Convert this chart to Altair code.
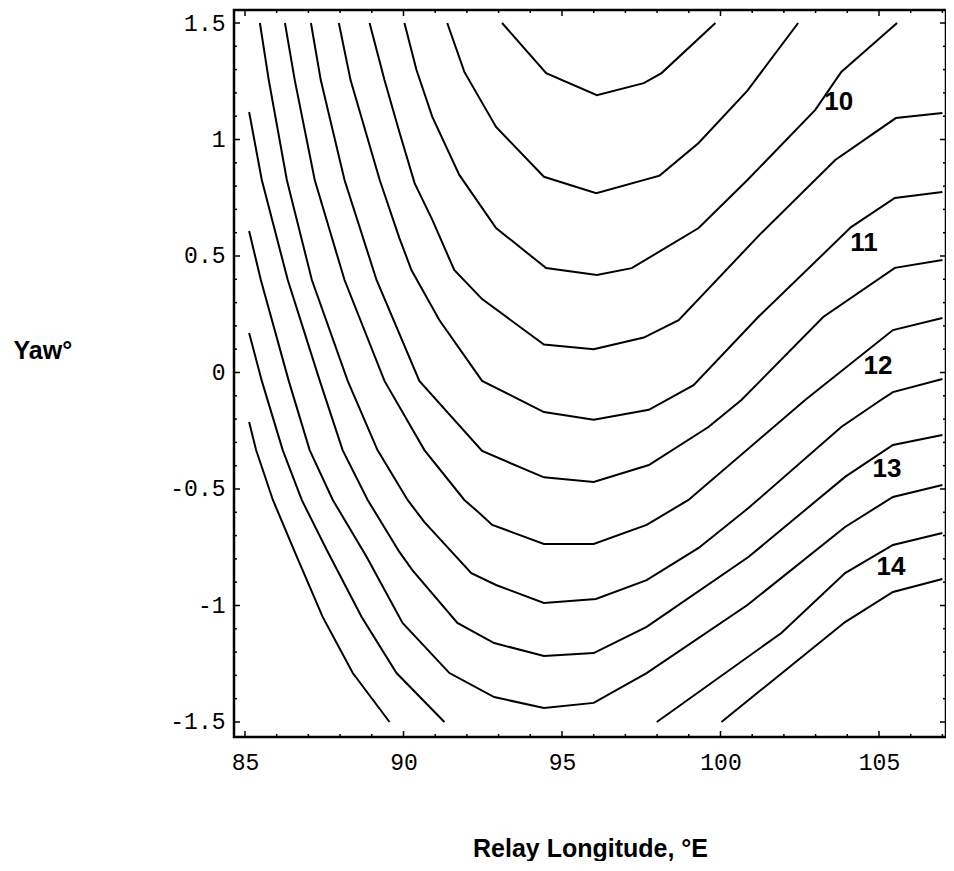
import altair as alt
import pandas as pd

# ---- contour lines (Relay Longitude °E, Yaw °) ----
LON_9 = [93.11, 94.50, 96.10, 97.58, 98.14, 99.84]
YAW_9 = [1.50, 1.285, 1.19, 1.242, 1.285, 1.50]

LON_95 = [91.38, 91.92, 92.92, 94.43, 96.08, 98.08, 99.31, 100.85, 102.45]
YAW_95 = [1.50, 1.29, 1.054, 0.84, 0.77, 0.845, 0.985, 1.21, 1.50]

LON_10 = [90.03, 90.41, 90.91, 91.76, 92.92, 94.50, 96.10, 97.20, 99.31, 100.85, 102.99, 103.81, 105.57]
YAW_10 = [1.50, 1.298, 1.097, 0.848, 0.62, 0.448, 0.418, 0.448, 0.62, 0.826, 1.127, 1.29, 1.50]

LON_105 = [88.93, 89.40, 89.87, 90.35, 90.91, 91.60, 92.48, 94.43, 96.0, 97.58, 98.68, 101.29, 103.62, 105.53, 107.0]
YAW_105 = [1.50, 1.255, 1.032, 0.813, 0.655, 0.44, 0.315, 0.12, 0.10, 0.15, 0.225, 0.599, 0.912, 1.092, 1.114]

LON_11 = [87.96, 88.33, 89.25, 89.87, 90.25, 91.13, 92.48, 94.43, 96.0, 97.74, 99.15, 101.19, 104.12, 105.50, 107.0]
YAW_11 = [1.50, 1.255, 0.826, 0.577, 0.44, 0.225, -0.036, -0.17, -0.203, -0.16, -0.054, 0.238, 0.624, 0.749, 0.775]

LON_115 = [87.08, 87.39, 88.14, 89.15, 90.50, 92.48, 94.43, 96.0, 97.74, 99.62, 100.66, 103.24, 105.50, 107.0]
YAW_115 = [1.50, 1.255, 0.826, 0.397, -0.036, -0.337, -0.45, -0.47, -0.397, -0.234, -0.118, 0.238, 0.449, 0.483]

LON_12 = [86.26, 86.57, 87.20, 88.14, 89.40, 90.66, 91.92, 92.39, 92.80, 94.43, 96.0, 97.67, 98.99, 102.67, 105.44, 107.0]
YAW_12 = [1.50, 1.255, 0.826, 0.397, -0.036, -0.333, -0.547, -0.603, -0.654, -0.736, -0.736, -0.654, -0.547, -0.118, 0.182, 0.234]

LON_125 = [85.47, 85.75, 86.32, 87.11, 88.24, 89.18, 90.13, 90.66, 92.14, 92.92, 94.43, 96.07, 97.67, 99.31, 100.88, 103.81, 105.06, 105.44, 107.0]
YAW_125 = [1.50, 1.255, 0.826, 0.397, -0.036, -0.333, -0.547, -0.642, -0.861, -0.912, -0.989, -0.972, -0.891, -0.753, -0.582, -0.234, -0.118, -0.084, -0.028]

LON_13 = [85.13, 85.53, 86.35, 87.36, 88.08, 88.87, 89.87, 90.28, 91.70, 92.86, 94.43, 96.0, 97.67, 100.88, 103.93, 105.44, 107.0]
YAW_13 = [1.118, 0.826, 0.397, -0.036, -0.333, -0.547, -0.77, -0.848, -1.075, -1.161, -1.217, -1.204, -1.092, -0.792, -0.448, -0.311, -0.268]

LON_135 = [85.13, 85.50, 86.38, 87.04, 87.77, 88.84, 89.97, 91.45, 92.86, 94.43, 96.0, 97.67, 100.85, 103.93, 105.44, 107.0]
YAW_135 = [0.607, 0.397, -0.036, -0.333, -0.547, -0.792, -1.075, -1.29, -1.393, -1.44, -1.418, -1.29, -0.998, -0.663, -0.534, -0.483]

LON_14A = [85.13, 85.53, 86.19, 86.79, 87.58, 88.68, 89.78, 91.29]
YAW_14A = [0.170, -0.036, -0.333, -0.547, -0.762, -1.049, -1.29, -1.50]
LON_14B = [97.99, 101.92, 103.93, 105.44, 107.0]
YAW_14B = [-1.50, -1.118, -0.861, -0.74, -0.689]

LON_145A = [85.13, 85.35, 85.88, 86.64, 87.45, 88.40, 89.56]
YAW_145A = [-0.212, -0.333, -0.547, -0.792, -1.049, -1.29, -1.50]
LON_145B = [100.03, 103.93, 105.44, 107.0]
YAW_145B = [-1.50, -1.071, -0.942, -0.886]

# ---- contour labels ----
LABEL_TEXT = ["10", "11", "12", "13", "14"]
LABEL_LON = [103.73, 104.53, 104.97, 105.25, 105.38]
LABEL_YAW = [1.16, 0.556, 0.03, -0.414, -0.835]

# ---- axis ticks ----
X_MAJOR = [85, 90, 95, 100, 105]
X_MINOR = [86, 87, 88, 89, 91, 92, 93, 94, 96, 97, 98, 99, 101, 102, 103, 104, 106, 107]
Y_MAJOR = [-1.5, -1.0, -0.5, 0.0, 0.5, 1.0, 1.5]
Y_MINOR = [-1.4, -1.3, -1.2, -1.1, -0.9, -0.8, -0.7, -0.6, -0.4, -0.3, -0.2, -0.1,
           0.1, 0.2, 0.3, 0.4, 0.6, 0.7, 0.8, 0.9, 1.1, 1.2, 1.3, 1.4]

segments = [
    ("9", LON_9, YAW_9), ("9.5", LON_95, YAW_95), ("10", LON_10, YAW_10),
    ("10.5", LON_105, YAW_105), ("11", LON_11, YAW_11), ("11.5", LON_115, YAW_115),
    ("12", LON_12, YAW_12), ("12.5", LON_125, YAW_125), ("13", LON_13, YAW_13),
    ("13.5", LON_135, YAW_135), ("14a", LON_14A, YAW_14A), ("14b", LON_14B, YAW_14B),
    ("14.5a", LON_145A, YAW_145A), ("14.5b", LON_145B, YAW_145B),
]
rows = []
for name, xs_, ys_ in segments:
    for i, (a, b) in enumerate(zip(xs_, ys_)):
        rows.append({"seg": name, "idx": i, "lon": a, "yaw": b})
lines_df = pd.DataFrame(rows)
labels_df = pd.DataFrame({"lon": LABEL_LON, "yaw": LABEL_YAW, "t": LABEL_TEXT})

W, H = 712, 727
xs = alt.Scale(domain=[84.653, 107.114], nice=False, zero=False)
ys = alt.Scale(domain=[-1.5644, 1.5558], nice=False, zero=False)

x_axis = alt.Axis(values=X_MAJOR, ticks=False, domain=False, grid=False,
                  labelFont="Liberation Mono", labelFontSize=23, labelPadding=14,
                  labelColor="black",
                  title="Relay Longitude, °E", titleFont="Liberation Sans",
                  titleFontWeight="bold", titleFontSize=25, titleColor="black",
                  titleY=119, titleBaseline="alphabetic")
y_axis = alt.Axis(values=Y_MAJOR, ticks=False, domain=False, grid=False,
                  labelFont="Liberation Mono", labelFontSize=23, labelPadding=9,
                  labelColor="black", labelExpr="'' + datum.value",
                  title="Yaw°", titleFont="Liberation Sans", titleFontWeight="bold",
                  titleFontSize=25, titleColor="black", titleAngle=0,
                  titleAlign="left", titleX=-221, titleY=348,
                  titleBaseline="alphabetic")

lines = alt.Chart(lines_df).mark_line(color="black", strokeWidth=2).encode(
    x=alt.X("lon:Q", scale=xs, axis=x_axis),
    y=alt.Y("yaw:Q", scale=ys, axis=y_axis),
    detail="seg:N",
    order="idx:Q",
)

labels = alt.Chart(labels_df).mark_text(
    font="Liberation Sans", fontWeight="bold", fontSize=26, color="black",
    align="center", baseline="middle"
).encode(
    x=alt.X("lon:Q", scale=xs, axis=x_axis),
    y=alt.Y("yaw:Q", scale=ys, axis=y_axis),
    text="t:N",
)


def xticks(vals, length):
    df = pd.DataFrame({"v": vals})
    bottom = alt.Chart(df).mark_rule(color="black", strokeWidth=1.5).encode(
        x=alt.X("v:Q", scale=xs, axis=x_axis), y=alt.value(H), y2=alt.value(H - length))
    top = alt.Chart(df).mark_rule(color="black", strokeWidth=1.5).encode(
        x=alt.X("v:Q", scale=xs, axis=x_axis), y=alt.value(0), y2=alt.value(length))
    return [bottom, top]


def yticks(vals, length):
    df = pd.DataFrame({"v": vals})
    left = alt.Chart(df).mark_rule(color="black", strokeWidth=1.5).encode(
        y=alt.Y("v:Q", scale=ys, axis=y_axis), x=alt.value(0), x2=alt.value(length))
    right = alt.Chart(df).mark_rule(color="black", strokeWidth=1.5).encode(
        y=alt.Y("v:Q", scale=ys, axis=y_axis), x=alt.value(W), x2=alt.value(W - length))
    return [left, right]


layers = [lines, labels] + xticks(X_MAJOR, 6) + xticks(X_MINOR, 3) + yticks(Y_MAJOR, 6) + yticks(Y_MINOR, 3)

chart = alt.layer(*layers).properties(
    width=W, height=H,
    autosize=alt.AutoSizeParams(type="none"),
    padding={"left": 226, "top": 2, "right": 0, "bottom": 124},
    background="white",
).configure_view(stroke="black", strokeWidth=2.5)

chart.save("out.html", embed_options={"renderer": "svg", "actions": False})
